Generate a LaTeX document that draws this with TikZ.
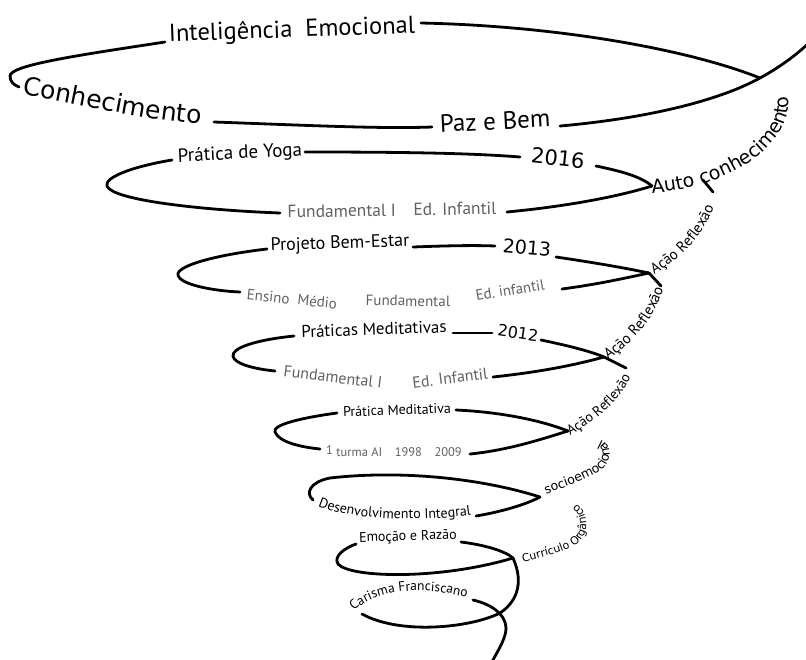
\documentclass[tikz,border=0pt]{standalone}
\usepackage{fontspec}
\setmainfont{PT Sans}
\newfontfamily\widefont{DejaVu Sans}
\usetikzlibrary{decorations.text}
\newcommand\myfs[1]{\fontsize{#1}{#1}\selectfont}
\begin{document}
\begin{tikzpicture}[x=1pt,y=-1pt,
  sp/.style={line width=2.8pt,line cap=round},
  lb/.style={inner sep=0pt,anchor=center},
  gr/.style={text=black!62},
  along/.style={decorate,decoration={text along path,text={#1},text align=left}},
]
\useasboundingbox (0,0) rectangle (806,659);
\fill[white] (0,0) rectangle (806,659);

\coordinate (c1) at (760,78);
\coordinate (c2) at (652,186);
\coordinate (c3) at (649,273);
\coordinate (c4) at (604,357);
\coordinate (c5) at (568,431);
\coordinate (c6) at (540,497);
\coordinate (c7) at (513,558);
\coordinate (c8) at (500,613);

% loop 1
\node[lb,rotate=2] (ie) at (292,31) {\myfs{24.5}Inteligência\ \ Emocional};
\draw[sp] (421,23) .. controls (560,26) and (690,50) .. (c1);
\draw[sp] (165,42) .. controls (80,55) and (10,65) .. (10,76) .. controls (10,82) and (14,85) .. (19,87);
\path[along={|\widefont\myfs{25}|Conhecimento}] (22,95) .. controls (80,103) and (140,121) .. (212,125);
\draw[sp] (214,122) .. controls (300,125) and (380,129) .. (432,127);
\node[lb,rotate=3] (pb) at (495,121) {\myfs{25}Paz e Bem};
\draw[sp] (560,126) .. controls (650,118) and (720,100) .. (c1) .. controls (780,67) and (795,56) .. (810,42);
\path[along={|\widefont\myfs{19}|Auto conhecimento}] (652,193) .. controls (705,190) and (765,165) .. (784,125) .. controls (792,108) and (790,95) .. (778,82);

% loop 2
\node[lb,rotate=3] (py) at (240,154) {\myfs{19}Prática de Yoga};
\draw[sp] (305,152) .. controls (400,152) and (470,153) .. (520,157);
\node[lb,rotate=-6] (y16) at (558,158) {\widefont\myfs{21}2016};
\draw[sp] (596,166) .. controls (620,171) and (640,176) .. (c2);
\draw[sp] (172,160) .. controls (130,167) and (104,178) .. (107,186) .. controls (112,200) and (200,210) .. (280,213);
\node[lb,gr,rotate=1] (f2) at (392,210) {\myfs{17.5}Fundamental I\quad Ed. Infantil};
\draw[sp] (507,212) .. controls (570,206) and (620,196) .. (c2);
\draw[sp] (703,180) -- (713,192);
\path[along={|\myfs{15}|Ação Reflexão}] (654,274) .. controls (680,260) and (708,232) .. (717,197);

% loop 3
\node[lb,rotate=2] (pbe) at (340,244) {\myfs{18}Projeto Bem-Estar};
\draw[sp] (413,247) .. controls (440,246) and (470,245) .. (495,246);
\node[lb,rotate=-5] (y13) at (527,248) {\widefont\myfs{19}2013};
\draw[sp] (556,257) .. controls (590,262) and (620,267) .. (c3);
\draw[sp] (267,249) .. controls (215,255) and (176,266) .. (178,275) .. controls (180,285) and (215,291) .. (240,292);
\node[lb,gr,rotate=-6] (em3) at (292,299) {\myfs{15}Ensino\ \ Médio};
\node[lb,gr,rotate=-1] (fu3) at (408,301) {\myfs{15}Fundamental};
\node[lb,gr,rotate=9] (ed3) at (510,290) {\myfs{15}Ed.\ infantil};
\draw[sp] (562,289) .. controls (600,284) and (630,277) .. (c3);
\draw[sp] (c3) -- (661,286);
\path[along={|\myfs{15}|Ação Reflexão}] (608,359) .. controls (632,344) and (655,318) .. (663,289);

% loop 4
\node[lb,rotate=2] (pm4) at (374,329) {\myfs{17}Práticas\ Meditativas};
\draw[sp] (453,333) -- (492,333);
\node[lb,rotate=-8] (y12) at (518,333) {\widefont\myfs{16}2012};
\draw[sp] (541,340) .. controls (565,345) and (590,351) .. (c4);
\draw[sp] (294,336) .. controls (255,340) and (232,348) .. (233,356) .. controls (234,364) and (255,369) .. (275,371);
\node[lb,gr,rotate=-7] (fu4) at (333,377) {\myfs{16}Fundamental I};
\node[lb,gr,rotate=7] (ed4) at (450,378) {\myfs{16}Ed. Infantil};
\draw[sp] (493,377) .. controls (540,372) and (575,365) .. (c4);
\draw[sp] (c4) -- (626,368);
\path[along={|\myfs{14}|Ação Reflexão}] (570,435) .. controls (596,421) and (625,398) .. (633,370);

% loop 5
\node[lb,rotate=2] (pm5) at (397,410) {\myfs{14}Prática Meditativa};
\draw[sp] (456,410) .. controls (500,412) and (540,420) .. (c5);
\draw[sp] (337,413) .. controls (300,418) and (272,425) .. (275,432) .. controls (279,442) and (300,447) .. (320,449);
\node[lb,gr] (tu5) at (394,451) {\myfs{12.5}\raisebox{2pt}{1} turma AI\quad 1998\quad 2009};
\draw[sp] (470,454) .. controls (510,450) and (545,438) .. (c5);
\path[along={|\widefont\myfs{12.5}|socioemocional}] (546,494) .. controls (565,487) and (588,479) .. (600,471) .. controls (608,466) and (611,456) .. (609,449) .. controls (607,442) and (600,439) .. (592,439) -- (560,439);

% loop 6
\draw[sp] (c6) .. controls (480,478) and (400,470) .. (330,478) .. controls (310,482) and (305,493) .. (313,500);
\path[along={|\myfs{14}|Desenvolvimento Integral}] (318,506) .. controls (350,520) and (420,522) .. (472,515);
\draw[sp] (476,516) .. controls (500,512) and (525,505) .. (c6);
\path[along={|\widefont\myfs{11}|Currículo Orgânico}] (523,562) .. controls (543,557) and (562,552) .. (575,545) .. controls (583,540) and (587,532) .. (586,522) .. controls (585,510) and (578,503) .. (568,502) -- (520,502);

% loop 7
\node[lb,rotate=2] (er7) at (408,537) {\myfs{14}Emoção e Razão};
\draw[sp] (461,542) .. controls (485,545) and (505,551) .. (c7);
\draw[sp] (356,544) .. controls (345,548) and (333,556) .. (338,564) .. controls (350,578) and (440,580) .. (c7);

% loop 8
\path[along={|\myfs{13.5}|Carisma Franciscano}] (354,611) .. controls (375,591) and (420,584) .. (468,598);
\draw[sp] (473,600) .. controls (495,605) and (510,618) .. (505,635) .. controls (502,645) and (497,652) .. (492,662);
\draw[sp] (362,614) .. controls (400,635) and (470,628) .. (c8) .. controls (515,603) and (525,585) .. (c7);
\end{tikzpicture}
\end{document}
